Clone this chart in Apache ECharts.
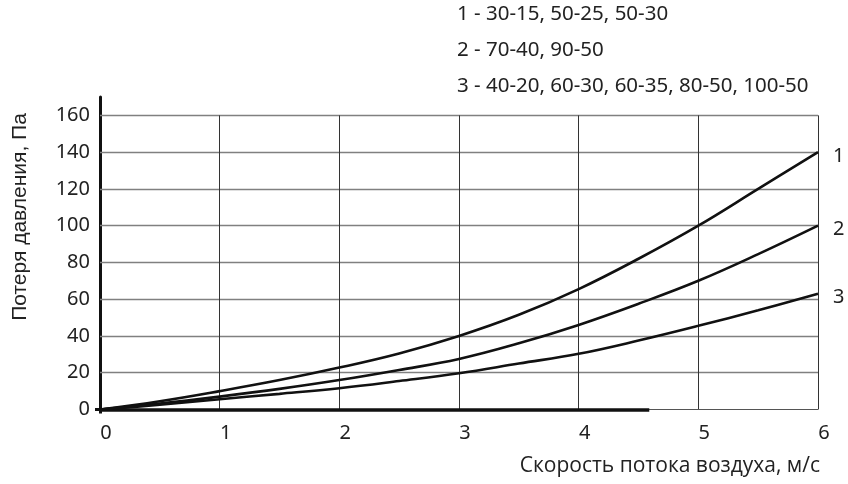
<!DOCTYPE html>
<html>
<head>
<meta charset="utf-8">
<script src="https://cdn.jsdelivr.net/npm/echarts@6/dist/echarts.min.js"></script>
<style>html,body{margin:0;padding:0;background:#fff}#c{width:848px;height:484px}</style>
</head>
<body>
<div id="c"></div>
<script>
const xValues = [0, 0.5, 1, 1.5, 2, 2.5, 3, 3.5, 4, 4.5, 5, 5.5, 6];
const curve1 = [0, 4.5, 10, 16, 22.8, 30.5, 40, 51.5, 65.5, 82, 100, 120, 140];
const curve2 = [0, 3.2, 7, 11.2, 16, 21.5, 27.5, 36, 46, 57.5, 70, 84.5, 100];
const curve3 = [0, 2.6, 5.6, 8.5, 11.6, 15.5, 19.7, 25, 30.3, 37.5, 45.5, 54, 63];
const seriesNames = ['1', '2', '3'];
const legendLines = ['1 - 30-15, 50-25, 50-30', '2 - 70-40, 90-50', '3 - 40-20, 60-30, 60-35, 80-50, 100-50'];
const yTicks = [0, 20, 40, 60, 80, 100, 120, 140, 160];
const xTicks = [0, 1, 2, 3, 4, 5, 6];
const yAxisTop = 170;
const xAxisBarEnd = 4.59;
const xTitle = 'Скорость потока воздуха, м/с';
const yTitle = 'Потеря давления, Па';

const chart = echarts.init(document.getElementById('c'));
const hGrid = yTicks.filter(v => v > 0).map(v => [{coord: [0, v]}, {coord: [6, v]}]);
const vGrid = xTicks.filter(v => v > 0).map(v => [{coord: [v, 0]}, {coord: [v, 160]}]);
const zeroGrid = [[{coord: [0, 0]}, {coord: [6, 0]}]];
const mk = (arr, color, width) => arr.map(p => [
  Object.assign({lineStyle: {color: color, width: width, type: 'solid'}}, p[0]), p[1]]);

const curves = [curve1, curve2, curve3].map((c, i) => ({
  name: seriesNames[i],
  type: 'line',
  smooth: 0.4,
  showSymbol: false,
  silent: true,
  z: 5,
  data: xValues.map((x, j) => [x, c[j]]),
  lineStyle: {color: '#111', width: 2.6},
  endLabel: {
    show: true,
    formatter: '{a}',
    offset: [7, 4],
    fontFamily: 'Noto Sans',
    fontSize: 20,
    color: '#222'
  }
}));

chart.setOption({
  animation: false,
  title: {
    text: legendLines.join('\n'),
    left: 457,
    top: -4,
    padding: 0,
    textStyle: {fontFamily: 'Noto Sans', fontSize: 20.5, fontWeight: 'normal', color: '#222', lineHeight: 36}
  },
  grid: {left: 100, right: 30, top: 97, bottom: 74.5, containLabel: false},
  xAxis: {
    type: 'value', min: 0, max: 6, interval: 1,
    axisLine: {show: false},
    axisTick: {show: true, customValues: [0], length: 4, lineStyle: {color: '#111', width: 3}},
    splitLine: {show: false},
    axisLabel: {fontFamily: 'Noto Sans', fontSize: 20, color: '#222', margin: 14, padding: [0, 0, 0, 12]}
  },
  yAxis: {
    type: 'value', min: 0, max: yAxisTop,
    axisLine: {show: true, lineStyle: {color: '#111', width: 3}},
    axisTick: {show: true, customValues: [0], length: 5, lineStyle: {color: '#111', width: 3}},
    splitLine: {show: false},
    axisLabel: {customValues: yTicks, fontFamily: 'Noto Sans', fontSize: 20, color: '#222', margin: 10, padding: [0, 0, 14, 0]}
  },
  graphic: [
    {type: 'text', x: 20, y: 217, rotation: Math.PI / 2,
     style: {text: yTitle, fontFamily: 'Liberation Sans', fontSize: 21, fill: '#222', align: 'center', verticalAlign: 'middle'}},
    {type: 'text', x: 820, y: 466,
     style: {text: xTitle, fontFamily: 'Open Sans', fontSize: 21, fill: '#222', align: 'right', verticalAlign: 'middle'}}
  ],
  series: [
    {
      type: 'line', data: [], silent: true, z: 1,
      markLine: {
        silent: true, symbol: ['none', 'none'], label: {show: false}, animation: false,
        data: mk(hGrid, '#808080', 1.3).concat(mk(vGrid, '#333', 1)).concat(mk(zeroGrid, '#555', 1))
      }
    },
    {
      type: 'line', data: [], silent: true, z: 2,
      markLine: {
        silent: true, symbol: ['none', 'none'], label: {show: false}, animation: false,
        data: [[{coord: [0, 0], lineStyle: {color: '#111', width: 3.5, type: 'solid'}}, {coord: [xAxisBarEnd, 0]}]]
      }
    }
  ].concat(curves)
});
</script>
</body>
</html>
